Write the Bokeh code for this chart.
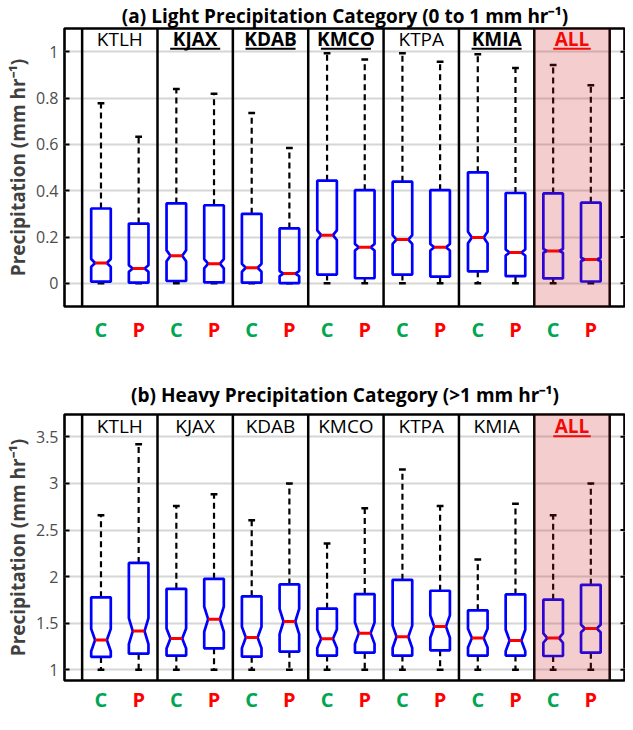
import numpy as np
from bokeh.plotting import figure
from bokeh.models import (ColumnDataSource, Span, BoxAnnotation, FixedTicker,
                          NumeralTickFormatter, Range1d)
from bokeh.layouts import column
from bokeh.embed import file_html
from bokeh.resources import INLINE
from bokeh.core.properties import value

# ---------------- data ----------------
stations = ["KTLH", "KJAX", "KDAB", "KMCO", "KTPA", "KMIA", "ALL"]
model_labels = ["C", "P"]

# (a) light precipitation: whisker high, q3, median, q1, whisker low, notch half-size
light_c_whi = [0.777, 0.839, 0.735, 0.993, 0.993, 0.989, 0.942]
light_c_q3 = [0.323, 0.345, 0.300, 0.443, 0.439, 0.479, 0.388]
light_c_med = [0.088, 0.119, 0.067, 0.208, 0.189, 0.198, 0.140]
light_c_q1 = [0.007, 0.010, 0.003, 0.038, 0.038, 0.052, 0.021]
light_c_wlo = [0.0, 0.0, 0.0, 0.0, 0.0, 0.0, 0.0]
light_c_notch = [0.017, 0.024, 0.017, 0.021, 0.019, 0.025, 0.008]

light_p_whi = [0.633, 0.818, 0.584, 0.966, 0.956, 0.930, 0.855]
light_p_q3 = [0.258, 0.337, 0.237, 0.402, 0.402, 0.390, 0.348]
light_p_med = [0.064, 0.085, 0.042, 0.156, 0.156, 0.133, 0.103]
light_p_q1 = [0.003, 0.004, 0.001, 0.022, 0.029, 0.031, 0.008]
light_p_wlo = [0.0, 0.0, 0.0, 0.0, 0.0, 0.0, 0.0]
light_p_notch = [0.014, 0.020, 0.011, 0.014, 0.014, 0.013, 0.007]

# (b) heavy precipitation
heavy_c_whi = [2.659, 2.758, 2.606, 2.357, 3.149, 2.183, 2.659]
heavy_c_q3 = [1.778, 1.870, 1.789, 1.657, 1.966, 1.639, 1.753]
heavy_c_med = [1.320, 1.337, 1.348, 1.334, 1.355, 1.341, 1.341]
heavy_c_q1 = [1.139, 1.153, 1.142, 1.153, 1.153, 1.153, 1.149]
heavy_c_wlo = [1.0, 1.0, 1.0, 1.0, 1.0, 1.0, 1.0]
heavy_c_notch = [0.12, 0.107, 0.115, 0.10, 0.12, 0.10, 0.05]

heavy_p_whi = [3.42, 2.883, 3.0, 2.734, 2.758, 2.783, 3.0]
heavy_p_q3 = [2.147, 1.977, 1.917, 1.813, 1.849, 1.810, 1.913]
heavy_p_med = [1.416, 1.544, 1.519, 1.394, 1.465, 1.316, 1.444]
heavy_p_q1 = [1.174, 1.231, 1.195, 1.185, 1.210, 1.153, 1.185]
heavy_p_wlo = [1.0, 1.0, 1.0, 1.0, 1.0, 1.0, 1.0]
heavy_p_notch = [0.14, 0.135, 0.135, 0.115, 0.12, 0.115, 0.04]

light_bold = [False, True, True, True, False, True, True]
heavy_bold = [False, False, False, False, False, False, True]

light_ticks = [0, 0.2, 0.4, 0.6, 0.8, 1]
heavy_ticks = [1, 1.5, 2, 2.5, 3, 3.5]

title_a = "(a) Light Precipitation Category (0 to 1 mm hr\u207b\u00b9)"
title_b = "(b) Heavy Precipitation Category (>1 mm hr\u207b\u00b9)"
ylabel = "Precipitation (mm hr\u207b\u00b9)"

# ---------------- style ----------------
FONT = "Open Sans"
BLUE = "#0000ff"
GREEN = "#00a651"
RED = "#ff0000"
BOX_HALF = 0.13
NOTCH_HALF = 0.078
CAP_HALF = 0.045
OFFSET = 0.25
X_RANGE = (0.266, 7.71)
BORDER_L, BORDER_R, WIDTH = 64, 0, 625

centers = np.arange(1, len(stations) + 1)


def box_polys(xc, q1, q3, med, notch):
    xs, ys = [], []
    for x, a, b, m, n in zip(xc, q1, q3, med, notch):
        lo = max(m - n, a)
        hi = min(m + n, b)
        xs.append([x - BOX_HALF, x - BOX_HALF, x - NOTCH_HALF, x - BOX_HALF, x - BOX_HALF,
                   x + BOX_HALF, x + BOX_HALF, x + NOTCH_HALF, x + BOX_HALF, x + BOX_HALF])
        ys.append([a, lo, m, hi, b, b, hi, m, lo, a])
    return xs, ys


def draw_boxes(p, xc, whi, q3, med, q1, wlo, notch):
    xc = np.asarray(xc, dtype=float)
    p.segment(x0=xc, y0=q3, x1=xc, y1=whi, line_color="black", line_width=2.2, line_dash="6 4")
    p.segment(x0=xc, y0=q1, x1=xc, y1=wlo, line_color="black", line_width=2.2, line_dash="6 4")
    p.segment(x0=xc - CAP_HALF, y0=whi, x1=xc + CAP_HALF, y1=whi, line_color="black", line_width=2.5)
    p.segment(x0=xc - CAP_HALF, y0=wlo, x1=xc + CAP_HALF, y1=wlo, line_color="black", line_width=2.5)
    xs, ys = box_polys(xc, q1, q3, med, notch)
    p.patches(xs=xs, ys=ys, fill_color=None, line_color=BLUE, line_width=2.7)
    p.segment(x0=xc - NOTCH_HALF, y0=med, x1=xc + NOTCH_HALF, y1=med, line_color=RED, line_width=3)


def make_panel(title, c_stats, p_stats, y_start, y_end, ticks, bold, height,
               border_top, title_standoff, label_frac, underline_frac, x_range):
    p = figure(width=WIDTH, height=height, output_backend="svg", toolbar_location=None,
               x_range=x_range, y_range=Range1d(y_start, y_end),
               min_border_left=BORDER_L, min_border_right=BORDER_R, min_border_top=border_top,
               min_border_bottom=2)
    p.background_fill_color = "white"
    p.border_fill_color = "white"
    p.outline_line_color = "black"
    p.outline_line_width = 2.6
    p.outline_line_alpha = 1.0

    p.title.text = title
    p.title.align = "center"
    p.title.offset = 8
    p.title.text_font = FONT
    p.title.text_font_size = "19px"
    p.title.text_font_style = "bold"
    p.title.text_color = "black"
    p.title.standoff = title_standoff

    p.xaxis.visible = False
    p.xgrid.visible = False

    p.yaxis.ticker = FixedTicker(ticks=ticks)
    p.yaxis.formatter = NumeralTickFormatter(format="0.[0]")
    p.yaxis.axis_line_color = None
    p.yaxis.major_tick_in = 5
    p.yaxis.major_tick_out = 0
    p.yaxis.major_tick_line_width = 2
    p.yaxis.major_tick_line_color = "black"
    p.yaxis.minor_tick_line_color = None
    p.yaxis.major_label_text_font = FONT
    p.yaxis.major_label_text_font_size = "16px"
    p.yaxis.major_label_text_color = "#4d4d4d"
    p.yaxis.major_label_standoff = 6
    p.yaxis.axis_label = ylabel
    p.yaxis.axis_label_text_font = FONT
    p.yaxis.axis_label_text_font_size = "19px"
    p.yaxis.axis_label_text_font_style = "bold"
    p.yaxis.axis_label_text_color = "#404040"
    p.yaxis.axis_label_standoff = 2

    p.ygrid.ticker = FixedTicker(ticks=ticks)
    p.ygrid.grid_line_color = "#d6d6d6"
    p.ygrid.grid_line_width = 2

    # inward ticks on the right edge of the frame
    p.ray(x=[x_range.end] * len(ticks), y=ticks, length=5, length_units="screen",
          angle=np.pi, line_color="black", line_width=2)

    # station separators
    for edge in np.append(centers - 0.5, centers[-1] + 0.5):
        p.add_layout(Span(location=float(edge), dimension="height", line_color="black", line_width=2.5))

    draw_boxes(p, centers - OFFSET, *c_stats)
    draw_boxes(p, centers + OFFSET, *p_stats)

    # highlight of the last group ("ALL")
    p.add_layout(BoxAnnotation(left=float(centers[-1] - 0.5), right=float(centers[-1] + 0.5),
                               fill_color="#cd1e1e", fill_alpha=0.22, line_color=None))

    # station names
    span = y_end - y_start
    ly = y_start + label_frac * span
    uy = y_start + underline_frac * span
    colors = [RED if s == "ALL" else "black" for s in stations]
    styles = ["bold" if b else "normal" for b in bold]
    src = ColumnDataSource(dict(x=centers, y=[ly] * len(stations), text=stations,
                                color=colors, style=styles))
    p.text(x="x", y="y", text="text", source=src, text_color="color", text_font_style="style",
           text_font=value(FONT), text_font_size="19px", text_align="center",
           text_baseline="middle")
    ux = np.asarray([c for c, b in zip(centers, bold) if b], dtype=float)
    uw = np.asarray([0.083 * len(s) for s, b in zip(stations, bold) if b], dtype=float)
    uc = [RED if s == "ALL" else "black" for s, b in zip(stations, bold) if b]
    p.segment(x0=ux - uw, y0=[uy] * len(ux), x1=ux + uw, y1=[uy] * len(ux),
              line_color=uc, line_width=2)
    return p


def make_model_row(height, y_offset, x_range):
    q = figure(width=WIDTH, height=height, output_backend="svg", toolbar_location=None,
               x_range=x_range, y_range=Range1d(0, 1), x_axis_type=None, y_axis_type=None,
               min_border_left=BORDER_L, min_border_right=BORDER_R, min_border_top=0,
               min_border_bottom=0)
    q.outline_line_color = None
    q.grid.visible = False
    q.background_fill_color = "white"
    q.border_fill_color = "white"
    xs = list(centers - OFFSET) + list(centers + OFFSET)
    txt = [model_labels[0]] * len(centers) + [model_labels[1]] * len(centers)
    col = [GREEN] * len(centers) + [RED] * len(centers)
    src = ColumnDataSource(dict(x=xs, y=[0.5] * len(xs), text=txt, color=col))
    q.text(x="x", y="y", text="text", source=src, text_color="color", y_offset=y_offset,
           text_align="center", text_baseline="middle", text_font=value(FONT),
           text_font_size="20px", text_font_style="bold")
    return q


xr = Range1d(*X_RANGE)

pa = make_panel(title_a,
                (light_c_whi, light_c_q3, light_c_med, light_c_q1, light_c_wlo, light_c_notch),
                (light_p_whi, light_p_q3, light_p_med, light_p_q1, light_p_wlo, light_p_notch),
                -0.1, 1.1, light_ticks, light_bold, height=308, border_top=27,
                title_standoff=0, label_frac=0.963, underline_frac=0.927, x_range=xr)
ca = make_model_row(40, 1, xr)
pb = make_panel(title_b,
                (heavy_c_whi, heavy_c_q3, heavy_c_med, heavy_c_q1, heavy_c_wlo, heavy_c_notch),
                (heavy_p_whi, heavy_p_q3, heavy_p_med, heavy_p_q1, heavy_p_wlo, heavy_p_notch),
                0.886, 3.74, heavy_ticks, heavy_bold, height=334, border_top=66,
                title_standoff=13, label_frac=0.958, underline_frac=0.918, x_range=xr)
cb = make_model_row(32, 1, xr)

layout = column(pa, ca, pb, cb, spacing=0)
open("out.html", "w").write(file_html(layout, INLINE))
